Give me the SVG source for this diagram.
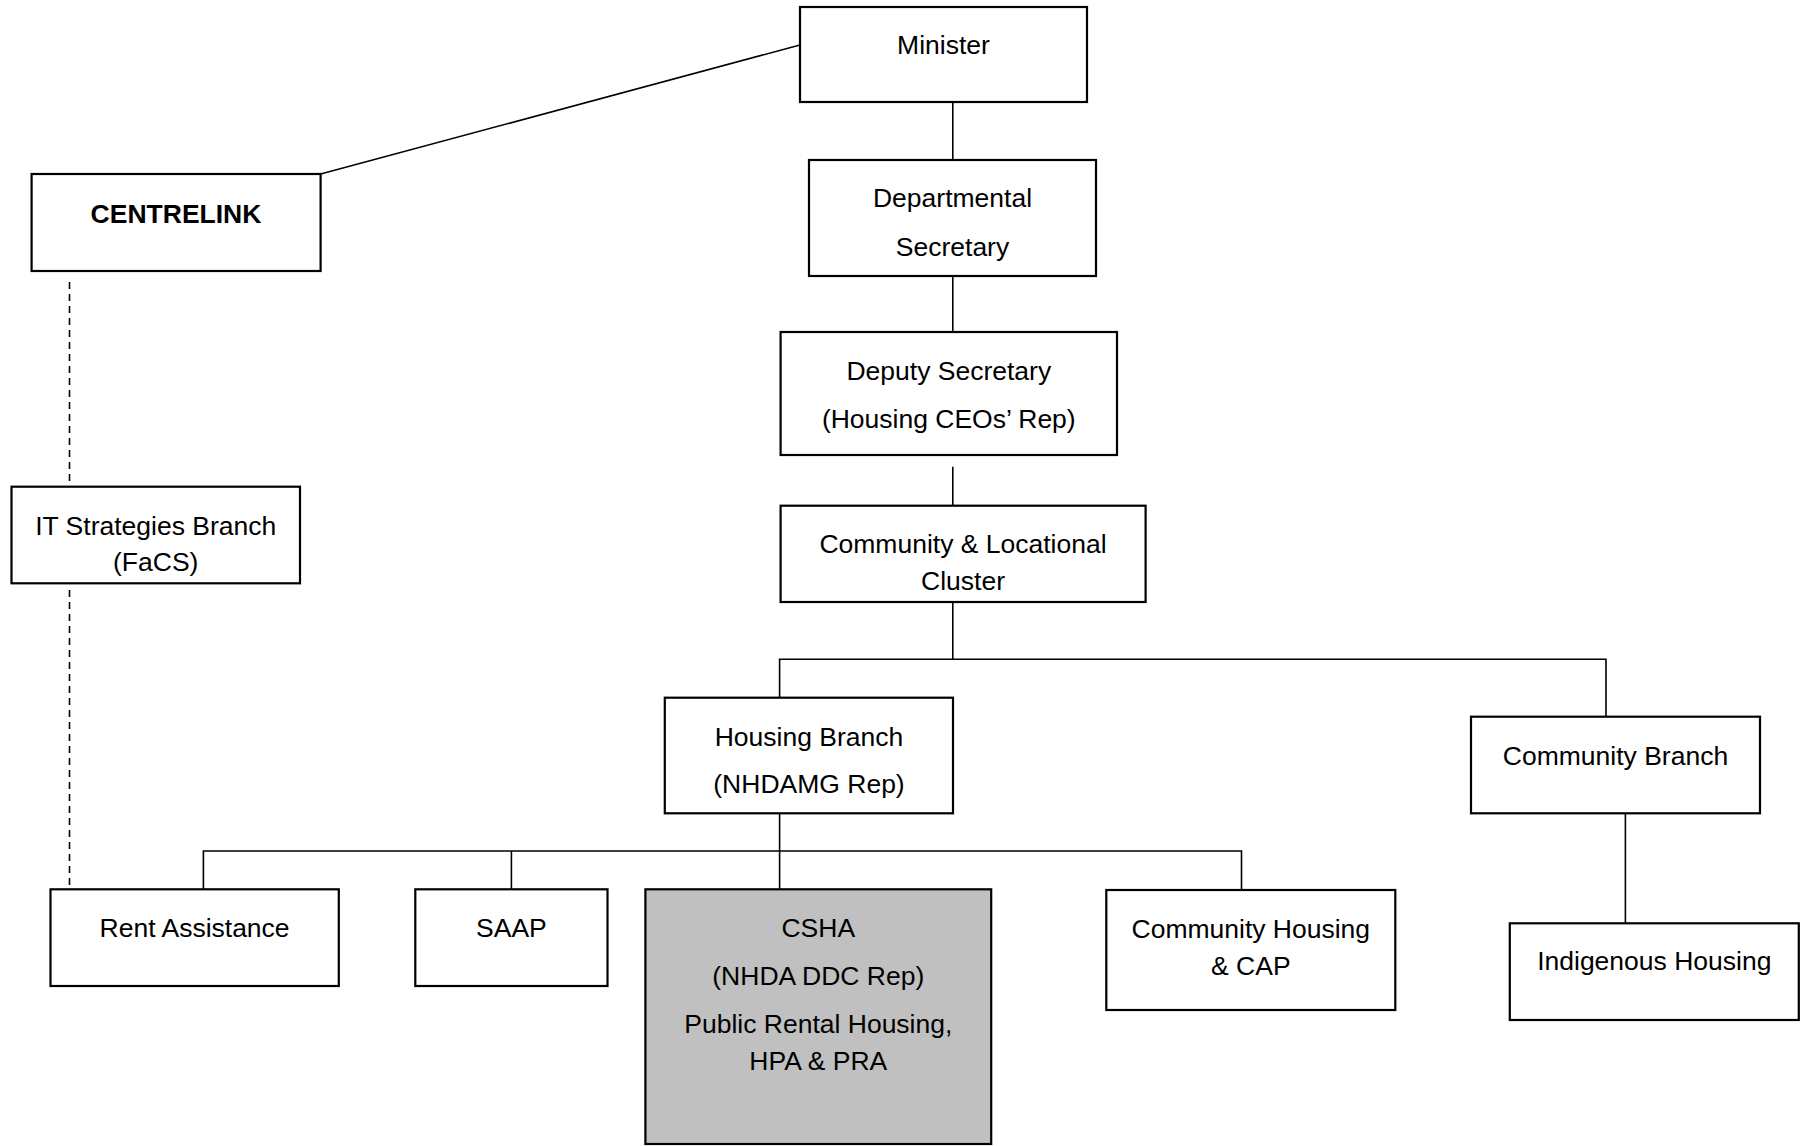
<svg xmlns="http://www.w3.org/2000/svg" width="1809" height="1146" viewBox="0 0 1809 1146">
  <style>
    .box { fill: #ffffff; stroke: #000000; stroke-width: 2.2; }
    .shaded { fill: #c0c0c0; }
    .lbl { font-family: "Liberation Sans", Arial, sans-serif; font-size: 26.5px; fill: #000000; text-anchor: middle; }
    .bold { font-weight: bold; }
    .link { fill: none; stroke: #000000; stroke-width: 1.6; }
    .dash { stroke-dasharray: 7 5; }
  </style>
  <rect width="1809" height="1146" fill="#ffffff"/>

  <!-- connectors -->
  <g id="connectors">
    <line class="link" x1="320.6" y1="174" x2="800" y2="45"/>
    <line class="link" x1="952.8" y1="102" x2="952.8" y2="160"/>
    <line class="link" x1="952.8" y1="276" x2="952.8" y2="332"/>
    <line class="link" x1="952.8" y1="466.7" x2="952.8" y2="505.7"/>
    <line class="link" x1="952.8" y1="602" x2="952.8" y2="659.3"/>
    <polyline class="link" points="779.6,697.7 779.6,659.3 1606,659.3 1606,716.7"/>
    <line class="link" x1="779.6" y1="813.3" x2="779.6" y2="889.3"/>
    <polyline class="link" points="203.4,889.3 203.4,851 1241.5,851 1241.5,890"/>
    <line class="link" x1="511.4" y1="851" x2="511.4" y2="889.3"/>
    <line class="link" x1="1625.4" y1="808" x2="1625.4" y2="923.3"/>
    <line class="link dash" x1="69.5" y1="282" x2="69.5" y2="486.7"/>
    <line class="link dash" x1="69.5" y1="590" x2="69.5" y2="889.3"/>
  </g>

  <!-- nodes -->
  <g id="minister">
    <rect class="box" x="800" y="7" width="287" height="95"/>
    <text class="lbl" x="943.5" y="54">Minister</text>
  </g>
  <g id="centrelink">
    <rect class="box" x="31.6" y="174" width="289" height="97"/>
    <text class="lbl bold" x="176" y="222.7">CENTRELINK</text>
  </g>
  <g id="departmental-secretary">
    <rect class="box" x="809" y="160" width="287" height="116"/>
    <text class="lbl" x="952.5" y="207.3">Departmental</text>
    <text class="lbl" x="952.5" y="256">Secretary</text>
  </g>
  <g id="deputy-secretary">
    <rect class="box" x="780.6" y="332" width="336.4" height="123"/>
    <text class="lbl" x="948.8" y="380">Deputy Secretary</text>
    <text class="lbl" x="948.8" y="428.3">(Housing CEOs’ Rep)</text>
  </g>
  <g id="community-locational-cluster">
    <rect class="box" x="780.6" y="505.7" width="365" height="96.3"/>
    <text class="lbl" x="963" y="553.3">Community &amp; Locational</text>
    <text class="lbl" x="963" y="590">Cluster</text>
  </g>
  <g id="it-strategies-branch">
    <rect class="box" x="11.5" y="486.7" width="288.5" height="96.6"/>
    <text class="lbl" x="155.7" y="535">IT Strategies Branch</text>
    <text class="lbl" x="155.7" y="570.7">(FaCS)</text>
  </g>
  <g id="housing-branch">
    <rect class="box" x="664.8" y="697.7" width="288.2" height="115.6"/>
    <text class="lbl" x="809" y="745.7">Housing Branch</text>
    <text class="lbl" x="809" y="793.3">(NHDAMG Rep)</text>
  </g>
  <g id="community-branch">
    <rect class="box" x="1471" y="716.7" width="289" height="96.6"/>
    <text class="lbl" x="1615.5" y="765">Community Branch</text>
  </g>
  <g id="rent-assistance">
    <rect class="box" x="50.5" y="889.3" width="288.3" height="96.7"/>
    <text class="lbl" x="194.6" y="936.7">Rent Assistance</text>
  </g>
  <g id="saap">
    <rect class="box" x="415.3" y="889.3" width="192.2" height="96.7"/>
    <text class="lbl" x="511.4" y="936.7">SAAP</text>
  </g>
  <g id="csha">
    <rect class="box shaded" x="645.4" y="889.3" width="345.8" height="254.7"/>
    <text class="lbl" x="818.3" y="936.7">CSHA</text>
    <text class="lbl" x="818.3" y="985">(NHDA DDC Rep)</text>
    <text class="lbl" x="818.3" y="1033.3">Public Rental Housing,</text>
    <text class="lbl" x="818.3" y="1070">HPA &amp; PRA</text>
  </g>
  <g id="community-housing-cap">
    <rect class="box" x="1106.3" y="890" width="289" height="120"/>
    <text class="lbl" x="1250.8" y="937.7">Community Housing</text>
    <text class="lbl" x="1250.8" y="975">&amp; CAP</text>
  </g>
  <g id="indigenous-housing">
    <rect class="box" x="1509.8" y="923.3" width="289" height="96.7"/>
    <text class="lbl" x="1654.3" y="970">Indigenous Housing</text>
  </g>
</svg>
